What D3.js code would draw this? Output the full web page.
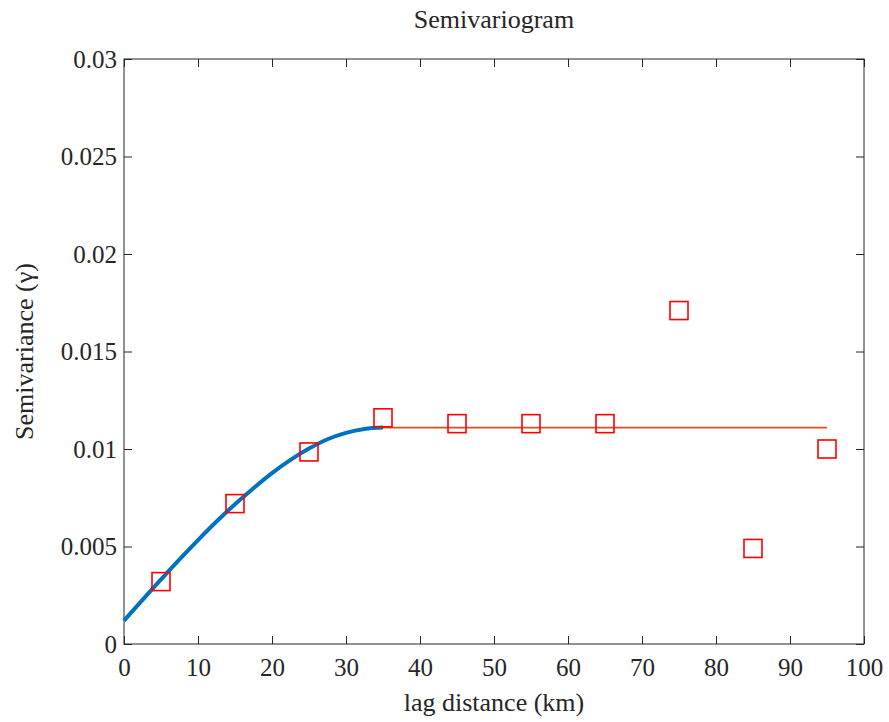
<!DOCTYPE html>
<html>
<head>
<meta charset="utf-8">
<script src="https://d3js.org/d3.v7.min.js"></script>
<style>
  body { margin: 0; background: #fff; }
  svg text { font-family: "Liberation Serif", "Times New Roman", Times, "DejaVu Serif", serif !important; fill: #262626; }
</style>
</head>
<body>
<div id="chart"></div>
<script>

// experimental semivariogram (lag centres, semivariance)
var lags = [5, 15, 25, 35, 45, 55, 65, 75, 85, 95];
var gammaObs = [0.0032, 0.0072, 0.00985, 0.0116, 0.0113, 0.0113, 0.0113, 0.0171, 0.0049, 0.0100];

// fitted model curve (up to the range)
var modelLags = [0, 2.5, 5, 7.5, 10, 12.5, 15, 17.5, 20, 22.5, 25, 27.5, 30, 32.5, 35];
var modelGamma = [0.0012, 0.00226, 0.00331, 0.00434, 0.00533, 0.00628, 0.00717, 0.00799, 0.00876, 0.00944, 0.01002, 0.0105, 0.01083, 0.01103, 0.0111];

// sill line beyond the range
var sillLags = [35, 95];
var sillGamma = [0.0111, 0.0111];

var xTicks = [0, 10, 20, 30, 40, 50, 60, 70, 80, 90, 100];
var yTicks = [0, 0.005, 0.01, 0.015, 0.02, 0.025, 0.03];

var W = 889, H = 722;
var margin = {top: 59, right: 25, bottom: 78, left: 124};
var width = W - margin.left - margin.right,
    height = H - margin.top - margin.bottom;

var svg = d3.select("#chart")
  .append("svg")
    .attr("width", W)
    .attr("height", H)
  .append("g")
    .attr("transform", "translate(" + margin.left + "," + margin.top + ")");

var x = d3.scaleLinear().domain([0, 100]).range([0, width]);
var y = d3.scaleLinear().domain([0, 0.03]).range([height, 0]);

// frame
svg.append("rect")
  .attr("width", width).attr("height", height)
  .attr("fill", "none").attr("stroke", "#262626").attr("stroke-width", 1);

var fmt = function(d) { return d === 0 ? "0" : String(+d.toFixed(3)); };

// axes, ticks pointing inward
var xb = svg.append("g").attr("transform", "translate(0," + height + ")")
  .call(d3.axisBottom(x).tickValues(xTicks).tickSizeInner(-8).tickSizeOuter(0).tickPadding(14).tickFormat(d3.format("d")));
var xt = svg.append("g")
  .call(d3.axisTop(x).tickValues(xTicks).tickSizeInner(-8).tickSizeOuter(0).tickFormat(""));
var yl = svg.append("g")
  .call(d3.axisLeft(y).tickValues(yTicks).tickSizeInner(-8).tickSizeOuter(0).tickPadding(7).tickFormat(fmt));
var yr = svg.append("g").attr("transform", "translate(" + width + ",0)")
  .call(d3.axisRight(y).tickValues(yTicks).tickSizeInner(-8).tickSizeOuter(0).tickFormat(""));

[xb, xt, yl, yr].forEach(function(g) {
  g.attr("font-family", null);
  g.select(".domain").remove();
  g.selectAll(".tick line").attr("stroke", "#262626");
  g.selectAll("text")
    .style("font-size", "25px")
    .attr("fill", "#262626");
});

// model curve
svg.append("path")
  .datum(modelLags.map(function(d, i) { return [d, modelGamma[i]]; }))
  .attr("fill", "none")
  .attr("stroke", "#0072BD")
  .attr("stroke-width", 4)
  .attr("d", d3.line()
    .x(function(d) { return x(d[0]); })
    .y(function(d) { return y(d[1]); })
    .curve(d3.curveMonotoneX));

// sill
svg.append("path")
  .datum(sillLags.map(function(d, i) { return [d, sillGamma[i]]; }))
  .attr("fill", "none")
  .attr("stroke", "#D95319")
  .attr("stroke-width", 1.8)
  .attr("d", d3.line()
    .x(function(d) { return x(d[0]); })
    .y(function(d) { return y(d[1]); }));

// experimental points
var s = 18;
svg.selectAll(".pt")
  .data(lags)
  .enter().append("rect")
    .attr("class", "pt")
    .attr("x", function(d) { return x(d) - s / 2; })
    .attr("y", function(d, i) { return y(gammaObs[i]) - s / 2; })
    .attr("width", s).attr("height", s)
    .attr("fill", "none")
    .attr("stroke", "#ff0000")
    .attr("stroke-width", 1.6);

// title and labels
svg.append("text")
  .attr("x", width / 2).attr("y", 28 - margin.top)
  .attr("text-anchor", "middle")
  .style("font-size", "26px")
  .text("Semivariogram");

svg.append("text")
  .attr("x", width / 2).attr("y", 711 - margin.top)
  .attr("text-anchor", "middle")
  .style("font-size", "26px")
  .text("lag distance (km)");

svg.append("text")
  .attr("transform", "rotate(-90)")
  .attr("x", -height / 2).attr("y", 33 - margin.left)
  .attr("text-anchor", "middle")
  .style("font-size", "26px")
  .text("Semivariance (\u03b3)");

</script>
</body>
</html>
